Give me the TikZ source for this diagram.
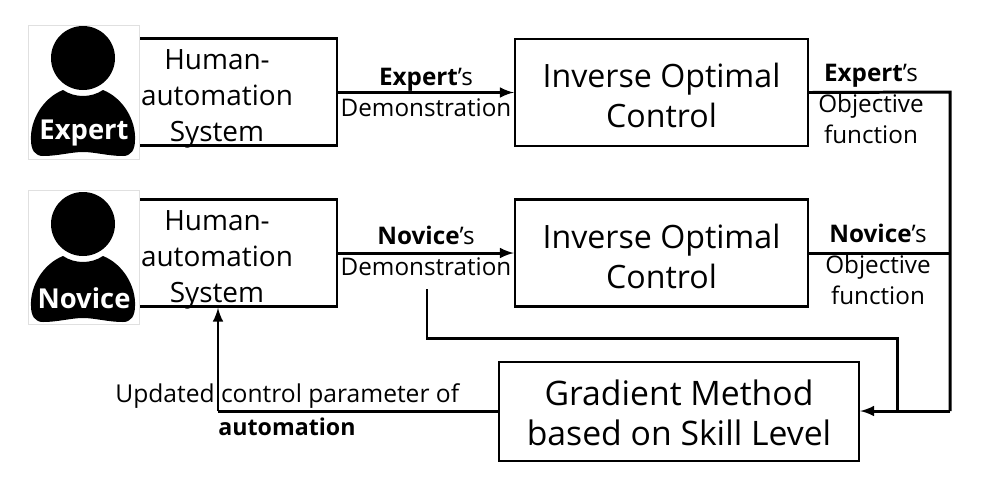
\documentclass[tikz,border=0pt]{standalone}
\usepackage{fontspec}
\setmainfont{Open Sans}
\begin{document}
\begin{tikzpicture}[x=0.02cm, y=-0.02cm]

      \tikzset{block/.style={draw, line width=1.4pt, fill=white, inner sep=0pt},
               hasys/.style={block, minimum width=4.8cm, minimum height=2.14cm},
               ioc/.style={block, minimum width=5.86cm, minimum height=2.14cm},
               hatext/.style={align=center, inner sep=0pt, yshift=-0.13cm, font=\fontsize{15.9}{20.5}\selectfont},
               ioctext/.style={align=center, inner sep=0pt, yshift=-0.06cm, font=\fontsize{18.3}{22.8}\selectfont},
               gradtext/.style={align=center, inner sep=0pt, yshift=-0.03cm, font=\fontsize{19.2}{22.8}\selectfont},
               photo/.style={draw=black!12, fill=white, minimum width=2.22cm, minimum height=2.68cm, inner sep=0pt},
               who/.style={text=white, font=\fontsize{15.6}{17}\selectfont\bfseries, inner sep=0pt},
               small/.style={align=center, inner sep=0pt, font=\fontsize{13.8}{17.6}\selectfont},
               link/.style={line width=1.7pt, >=latex},
               person/.pic={
                 \fill (0,0) circle (32);
                 \fill (-20,32) .. controls (-8,40) and (8,40) .. (20,32)
                       .. controls (40,40) and (53,62) .. (52,82)
                       .. controls (52,92) and (48,98) .. (40,98)
                       .. controls (25,98) and (12,94) .. (0,94)
                       .. controls (-12,94) and (-25,98) .. (-40,98)
                       .. controls (-48,98) and (-52,92) .. (-52,82)
                       .. controls (-53,62) and (-40,40) .. cycle;
               }}
      \useasboundingbox (0,0) rectangle (988,498);
%% Blocks
      	\node[hasys, label={[hatext]center:Human-\\automation\\System}] (sys1) at (217,92) {};
      	\node[hasys, label={[hatext]center:Human-\\automation\\System}] (sys2) at (217,253) {};
      	\node[ioc, label={[ioctext]center:Inverse Optimal\\Control}] (ioc1) at (661.5,92.5) {};
      	\node[ioc, label={[ioctext]center:Inverse Optimal\\Control}] (ioc2) at (661.5,253) {};
      	\node[block, minimum width=7.2cm, minimum height=1.98cm, label={[gradtext]center:Gradient Method\\based on Skill Level}] (grad) at (679,411.5) {};
%% Persons
      	\node[photo] (photo1) at (83.5,92) {};
      	\node[photo] (photo2) at (83.5,257.5) {};
      	\pic at (83,58) {person};
      	\pic at (83,224) {person};
      	\node[who] (expert) at (84,133) {Expert};
      	\node[who] (novice) at (84,298) {Novice};
%Bends
      	\coordinate (c1) at (950,92);
      	\coordinate (c2) at (950,253);
      	\coordinate (c3) at (950,411);
      	\coordinate (c4) at (427,289);
      	\coordinate (c5) at (427,338);
      	\coordinate (c6) at (897,338);
      	\coordinate (c7) at (897,411);
      	\coordinate (c8) at (218,411);
%Edges
		\draw [->, link] (sys1.east |- ioc1) -- (ioc1.west);
		\draw [->, link] (sys2.east) -- (ioc2.west);
		\draw [link] (ioc1.east) -- (c1) -- (c3);
		\draw [link] (ioc2.east) -- (c2);
		\draw [->, link] (c3) -- (grad.east |- c3);
		\draw [link] (c4) -- (c5) -- (c6) -- (c7);
		\draw [link] (grad.west |- c8) -- (c8);
		\draw [->, link] (c8) -- (c8 |- sys2.south);
%Labels
		\node[small] (demo1) at (426,92.5) {\textbf{Expert}'s\\Demonstration};
		\node[small] (demo2) at (426,250.5) {\textbf{Novice}'s\\Demonstration};
		\node[small] (obj1) at (871,104) {\textbf{Expert}'s\\Objective\\function};
		\node[small] (obj2) at (878,264) {\textbf{Novice}'s\\Objective\\function};
		\node[small, anchor=west, font=\fontsize{14}{17}\selectfont] (upd) at (115,396) {Updated control parameter of};
		\node[small, anchor=west, font=\fontsize{13.2}{17}\selectfont] (auto) at (218,427) {\textbf{automation}};

	\end{tikzpicture}
\end{document}
